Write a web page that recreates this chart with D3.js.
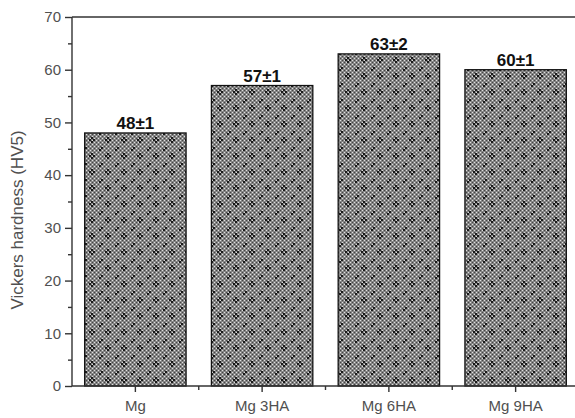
<!DOCTYPE html>
<html lang="en">
<head>
    <meta charset="utf-8">
    <script src="https://cdn.jsdelivr.net/npm/d3@7"></script>
    <style>
        body { margin: 0; background: #fff; }
        .axis text { font-family: "Liberation Sans", Arial, sans-serif; font-size: 15px; fill: #505050; }
        .axis path, .axis line { stroke: #333; stroke-width: 1.4; }
    </style>
</head>
<body>
<script>
    var categories = ["Mg", "Mg 3HA", "Mg 6HA", "Mg 9HA"];
    var hardness = [48, 57, 63, 60];
    var errors = [1, 1, 2, 1];
    var yTicks = [0, 10, 20, 30, 40, 50, 60, 70];
    var yMinorTicks = [5, 15, 25, 35, 45, 55, 65];

    var w = 575, h = 418;
    var svg = d3.select("body").append("svg").attr("width", w).attr("height", h);

    // checkered fill with dark diamond clusters
    var defs = svg.append("defs");
    var pat = defs.append("pattern").attr("id", "check")
        .attr("patternUnits", "userSpaceOnUse")
        .attr("width", 16).attr("height", 16);
    pat.append("rect").attr("width", 16).attr("height", 16).attr("fill", "#858585");
    for (var i = 0; i < 16; i += 2) {
        for (var j = 0; j < 16; j += 2) {
            pat.append("rect").attr("x", i).attr("y", j).attr("width", 1).attr("height", 1)
                .attr("fill", (i + j) % 4 == 0 ? "#e0e0e0" : "#444");
        }
    }
    [[0, 0], [8, 8]].forEach(function(c) {
        [[0, -2], [-2, 0], [2, 0], [0, 2]].forEach(function(o) {
            pat.append("rect")
                .attr("x", (c[0] + o[0] + 16) % 16 + 3).attr("y", (c[1] + o[1] + 16) % 16 + 3)
                .attr("width", 2).attr("height", 2).attr("fill", "#1a1a1a");
        });
    });

    var x = d3.scaleBand().domain(categories).range([72, 579]).paddingInner(0.2).paddingOuter(0.1);
    var y = d3.scaleLinear().domain([0, 70]).range([386, 17]);

    // top frame line
    svg.append("line").attr("x1", 72).attr("x2", w).attr("y1", y(70)).attr("y2", y(70))
        .attr("stroke", "#333").attr("stroke-width", 1.4);

    svg.selectAll("rect.bar")
        .data(hardness)
        .enter()
        .append("rect")
        .attr("class", "bar")
        .attr("x", function(d, i) { return x(categories[i]); })
        .attr("y", function(d) { return y(d); })
        .attr("width", x.bandwidth())
        .attr("height", function(d) { return y(0) - y(d); })
        .attr("fill", "url(#check)")
        .attr("stroke", "#111")
        .attr("stroke-width", 1.3);

    svg.selectAll("text.val")
        .data(hardness)
        .enter()
        .append("text")
        .attr("class", "val")
        .attr("x", function(d, i) { return x(categories[i]) + x.bandwidth() / 2; })
        .attr("y", function(d) { return y(d) - 4; })
        .attr("text-anchor", "middle")
        .attr("font-family", "Liberation Sans Narrow, Liberation Sans, Arial, sans-serif")
        .attr("font-weight", "bold")
        .attr("font-size", "17px")
        .attr("fill", "#111")
        .text(function(d, i) { return d + "\u00b1" + errors[i]; });

    // y axis
    var yAxis = svg.append("g").attr("class", "axis")
        .attr("transform", "translate(72,0)")
        .call(d3.axisLeft(y).tickValues(yTicks).tickSize(7).tickPadding(4));
    yAxis.select(".domain").attr("d", "M0," + y(0) + "V" + y(70));
    svg.append("g").attr("class", "axis")
        .attr("transform", "translate(72,0)")
        .call(d3.axisLeft(y).tickValues(yMinorTicks).tickSize(4).tickFormat(""))
        .select(".domain").remove();

    // x axis
    var xAxis = svg.append("g").attr("class", "axis")
        .attr("transform", "translate(0," + y(0) + ")")
        .call(d3.axisBottom(x).tickSize(6).tickPadding(8));
    xAxis.select(".domain").attr("d", "M72,0H" + w);
    var bounds = categories.slice(1).map(function(c) { return x(c) - x.step() * x.paddingInner() / 2; });
    svg.selectAll("line.minor")
        .data(bounds)
        .enter()
        .append("line")
        .attr("x1", function(d) { return d; })
        .attr("x2", function(d) { return d; })
        .attr("y1", y(0))
        .attr("y2", y(0) + 4)
        .attr("stroke", "#333")
        .attr("stroke-width", 1.4);

    svg.append("text")
        .attr("transform", "translate(23,220) rotate(-90)")
        .attr("text-anchor", "middle")
        .attr("font-family", "Liberation Sans, Arial, sans-serif")
        .attr("font-size", "17px")
        .attr("fill", "#505050")
        .text("Vickers hardness (HV5)");
</script>
</body>
</html>
